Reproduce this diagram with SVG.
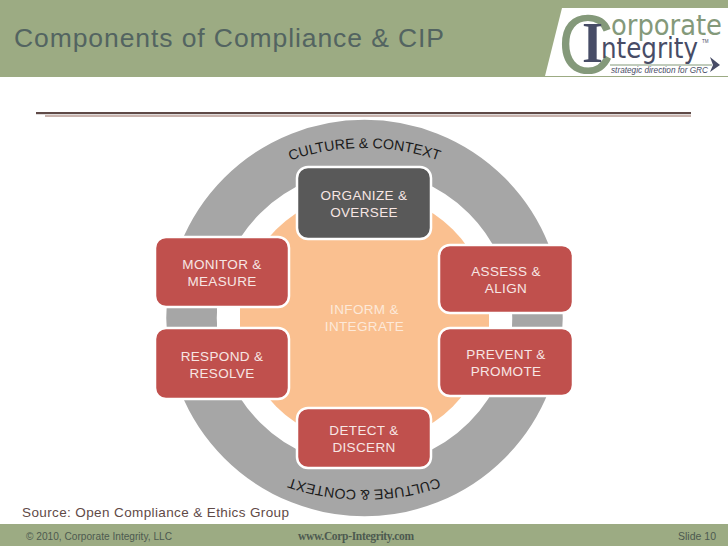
<svg xmlns="http://www.w3.org/2000/svg" xmlns:xlink="http://www.w3.org/1999/xlink" width="728" height="546" viewBox="0 0 728 546">
<style>
text{font-family:"Liberation Sans",Arial,sans-serif}
.box{stroke:#fff;stroke-width:2.5}
.red{fill:#c0504d}
.dark{fill:#595959}
.lbl{fill:#f7e6e4;font-size:13.5px;text-anchor:middle;letter-spacing:.35px}
.ring{font-size:14.2px;fill:#1a1a1a}
.foot{font-size:11.5px;fill:#4d5a50}
</style>
<defs>
<path id="arcTop" d="M264.5 171.4 A225 225 0 0 1 464.5 171.4"/>
<path id="arcBot" d="M464 467.7 A235 235 0 0 1 264 467.7"/>
</defs>
<rect width="728" height="546" fill="#fff"/>
<g id="header">
<rect width="728" height="77" fill="#9cab83"/>
<polygon points="562,8 728,8 728,76 545,76" fill="#fff"/>
<text x="14" y="47" font-size="26.5" fill="#536461" textLength="430" lengthAdjust="spacing">Components of Compliance &amp; CIP</text>
</g>
<g id="logo">
<text x="558" y="73" font-size="83" fill="#84997a" textLength="56" lengthAdjust="spacingAndGlyphs">C</text>
<text x="611" y="35" font-size="28" fill="#84997a" style="font-family:'DejaVu Sans',sans-serif" textLength="111" lengthAdjust="spacingAndGlyphs">orporate</text>
<text x="582" y="62" font-size="56" font-weight="bold" fill="#474c66" style="font-family:'Liberation Serif',serif" textLength="21" lengthAdjust="spacingAndGlyphs">I</text>
<text x="601" y="58" font-size="28" fill="#474c66" style="font-family:'DejaVu Sans',sans-serif" textLength="97" lengthAdjust="spacingAndGlyphs">ntegrity</text>
<text x="702" y="43" font-size="4.5" fill="#474c66">TM</text>
<path d="M610 65H712" stroke="#84997a" stroke-width="1.2"/>
<polygon points="710,57 720,65 710,72 713,65" fill="#474c66"/>
<text x="611" y="72.5" font-size="8.6" font-style="italic" fill="#474c66" textLength="97" lengthAdjust="spacingAndGlyphs">strategic direction for GRC</text>
</g>
<g id="rule">
<rect x="45" y="115" width="646" height="2" fill="#c9b3ad"/>
<rect x="36" y="112" width="655" height="2.2" fill="#5f4a47"/>
</g>
<g id="ring">
<circle cx="364.5" cy="318" r="173" fill="none" stroke="#a6a6a6" stroke-width="50.5"/>
<circle cx="364.5" cy="318" r="125" fill="#fac090"/>
<rect x="217" y="306" width="23" height="22" fill="#fff"/>
<rect x="489" y="306" width="23" height="22" fill="#fff"/>
<text class="ring"><textPath xlink:href="#arcTop" href="#arcTop" startOffset="50%" text-anchor="middle">CULTURE &amp; CONTEXT</textPath></text>
<text class="ring"><textPath xlink:href="#arcBot" href="#arcBot" startOffset="50%" text-anchor="middle">CULTURE &amp; CONTEXT</textPath></text>
</g>
<g id="center"><text class="lbl" x="364.5" y="314" style="fill:#fde9d9">INFORM &amp;</text><text class="lbl" x="364.5" y="331" style="fill:#fde9d9">INTEGRATE</text></g>
<g id="organize"><rect class="box dark" x="297" y="167" width="134" height="72" rx="11"/><text class="lbl" x="364" y="200">ORGANIZE &amp;</text><text class="lbl" x="364" y="217">OVERSEE</text></g>
<g id="monitor"><rect class="box red" x="155" y="237" width="134" height="70" rx="11"/><text class="lbl" x="222" y="269">MONITOR &amp;</text><text class="lbl" x="222" y="286">MEASURE</text></g>
<g id="respond"><rect class="box red" x="155" y="328" width="134" height="71" rx="11"/><text class="lbl" x="222" y="361">RESPOND &amp;</text><text class="lbl" x="222" y="378">RESOLVE</text></g>
<g id="assess"><rect class="box red" x="439" y="245" width="134" height="68" rx="11"/><text class="lbl" x="506" y="276">ASSESS &amp;</text><text class="lbl" x="506" y="293">ALIGN</text></g>
<g id="prevent"><rect class="box red" x="439" y="328" width="134" height="68" rx="11"/><text class="lbl" x="506" y="359">PREVENT &amp;</text><text class="lbl" x="506" y="376">PROMOTE</text></g>
<g id="detect"><rect class="box red" x="297" y="408" width="134" height="60" rx="11"/><text class="lbl" x="364" y="435">DETECT &amp;</text><text class="lbl" x="364" y="452">DISCERN</text></g>
<g id="footer">
<text x="22" y="517" font-size="13.5" fill="#5f4a47" textLength="267" lengthAdjust="spacing">Source: Open Compliance &amp; Ethics Group</text>
<rect y="524" width="728" height="22" fill="#9cab83"/>
<text class="foot" x="26" y="540" textLength="146" lengthAdjust="spacingAndGlyphs">© 2010, Corporate Integrity, LLC</text>
<text class="foot" x="298" y="540" font-weight="bold" style="font-family:'Liberation Serif',serif" textLength="116" lengthAdjust="spacing">www.Corp-Integrity.com</text>
<text class="foot" x="678" y="540" textLength="38" lengthAdjust="spacingAndGlyphs">Slide 10</text>
</g>
</svg>
